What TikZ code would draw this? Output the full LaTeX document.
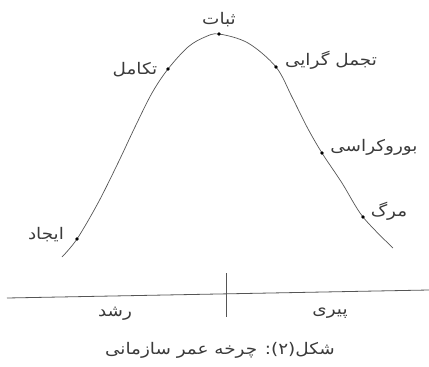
\documentclass[tikz,border=0pt]{standalone}
\usepackage{fontspec}
\TeXXeTstate=1
\newfontfamily\fa[Script=Arabic,FakeStretch=1.15]{DejaVu Sans}
\definecolor{ink}{HTML}{3A3A3A}
\definecolor{lineink}{HTML}{555555}
\begin{document}
\begin{tikzpicture}[x=1pt,y=-1pt,
  curve/.style={draw=lineink,line width=0.7pt},
  axis/.style={draw=lineink,line width=0.8pt},
  dot/.style={circle,fill=black,inner sep=0pt,minimum size=3.6pt},
  lab/.style={text=ink,font=\fa\fontsize{16}{18}\selectfont,inner sep=0pt}]
\useasboundingbox (0,0) rectangle (429,367);
% curve
\draw[curve] plot[smooth,tension=0.55] coordinates {
  (62,257) (77,239) (98,203) (118,163) (135,127) (152,93) (168,69)
  (188,47) (205,37) (219,34) (248,43) (276,67) (292,97) (307,127)
  (322,153) (342,183) (363,217) (393,248)};
% dots
\node[dot] (ijad) at (77,239) {};
\node[dot] (takamol) at (168,69) {};
\node[dot] (sobat) at (219,34) {};
\node[dot] (tajamol) at (276,67) {};
\node[dot] (buro) at (322,153) {};
\node[dot] (marg) at (363,217) {};
% labels
\node[lab] (lsobat) at (219,20) {\beginR ثبات\endR};
\node[lab] (ltakamol) at (135,70) {\beginR تکامل\endR};
\node[lab] (ltajamol) at (331,60) {\beginR تجمل گرایی\endR};
\node[lab] (lburo) at (374,147) {\beginR بوروکراسی\endR};
\node[lab] (lmarg) at (389,211) {\beginR مرگ\endR};
\node[lab] (lijad) at (46,235) {\beginR ایجاد\endR};
% axis
\coordinate (axl) at (7,298);
\coordinate (axr) at (429,290);
\coordinate (tickt) at (226,273);
\coordinate (tickb) at (226,317);
\draw[axis] (axl) -- (axr);
\draw[axis] (tickt) -- (tickb);
\node[lab] (roshd) at (115,314) {\beginR رشد\endR};
\node[lab] (piri) at (330,313) {\beginR پیری\endR};
\node[lab] (caption) at (220,350) {\beginR شکل(۲): چرخه عمر سازمانی\endR};
\end{tikzpicture}
\end{document}
